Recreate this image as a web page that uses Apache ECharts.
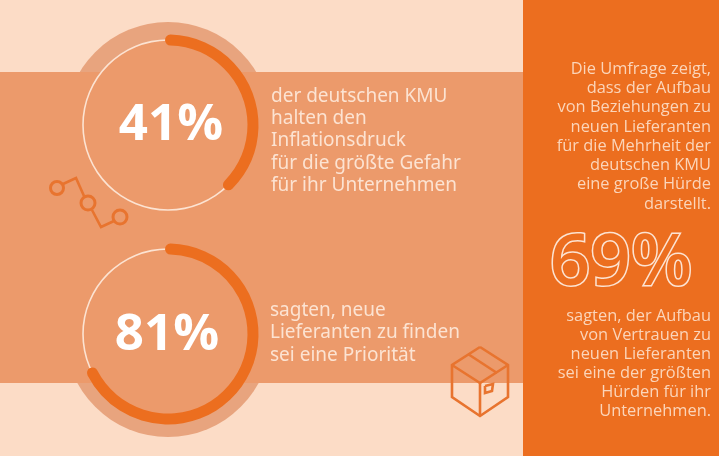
<!DOCTYPE html>
<html>
<head>
    <meta charset="utf-8">
    <title>Lieferanten KMU</title>
    <script src="https://cdn.jsdelivr.net/npm/echarts@6/dist/echarts.min.js"></script>
    <style>
        html, body { margin: 0; padding: 0; background: #FCDCC6; }
        #main { width: 719px; height: 456px; }
    </style>
</head>
<body>
    <div id="main"></div>
    <script type="text/javascript">
        // values
        var percentLabels = ['41%', '81%'];
        // length of the thick arcs as drawn in the picture (shorter than the printed numbers)
        var arcShares = [39, 69];
        var bigOutlineLabel = '69%';

        // texts
        var topLines = ['der deutschen KMU', 'halten den', 'Inflationsdruck', 'für die größte Gefahr', 'für ihr Unternehmen'];
        var bottomLines = ['sagten, neue', 'Lieferanten zu finden', 'sei eine Priorität'];
        var panelTopLines = ['Die Umfrage zeigt,', 'dass der Aufbau', 'von Beziehungen zu', 'neuen Lieferanten', 'für die Mehrheit der', 'deutschen KMU', 'eine große Hürde', 'darstellt.'];
        var panelBottomLines = ['sagten, der Aufbau', 'von Vertrauen zu', 'neuen Lieferanten', 'sei eine der größten', 'Hürden für ihr', 'Unternehmen.'];

        var orange = '#EC6E1F';
        var band = '#EC9A6B';
        var halo = '#E8A47E';
        var cream = '#FCE3D2';
        var centers = [[168, 125], [168, 334]];
        var labelOffsets = [[3, 0], [-1, 1]];

        var myChart = echarts.init(document.getElementById('main'));

        function fullDisc(center, radius, color, z) {
            return {
                type: 'pie', silent: true, z: z, center: center, radius: radius,
                label: { show: false }, labelLine: { show: false },
                data: [{ value: 1, itemStyle: { color: color } }]
            };
        }

        function arc(center, share, label, offset) {
            return {
                type: 'pie', silent: true, z: 6, center: center, radius: [79.5, 90.5],
                startAngle: 92, clockwise: true,
                labelLine: { show: false },
                data: [
                    {
                        value: share,
                        itemStyle: { color: orange, borderRadius: 5.5 },
                        label: {
                            show: true, position: 'center', formatter: label, offset: offset,
                            color: '#fff', fontFamily: 'Open Sans', fontWeight: 'bold', fontSize: 51
                        }
                    },
                    { value: 100 - share, itemStyle: { color: 'transparent' }, label: { show: false } }
                ]
            };
        }

        function textBlock(lines, x, ys, align, size, family, color) {
            return lines.map(function (line, i) {
                return {
                    type: 'text', z: 10, silent: true, x: x, y: ys[i],
                    style: {
                        text: line, fill: color, align: align, verticalAlign: 'middle',
                        fontSize: size, fontFamily: family
                    }
                };
            });
        }

        function iconLine(points) {
            return {
                type: 'polyline', z: 8, silent: true,
                shape: { points: points },
                style: { fill: 'none', stroke: '#E8742F', lineWidth: 2.6, lineJoin: 'miter' }
            };
        }

        function iconCircle(cx, cy, r) {
            return {
                type: 'circle', z: 8, silent: true,
                shape: { cx: cx, cy: cy, r: r },
                style: { fill: 'none', stroke: '#E8742F', lineWidth: 3 }
            };
        }

        var series = [];
        centers.forEach(function (c, i) {
            series.push(fullDisc(c, [0, 103], halo, 1));
            series.push(fullDisc(c, [0, 85], band, 4));
            series.push(fullDisc(c, [84.2, 85.8], cream, 5));
            series.push(arc(c, arcShares[i], percentLabels[i], labelOffsets[i]));
        });

        var graphics = [
            { type: 'rect', z: 0, silent: true, shape: { x: 0, y: 0, width: 719, height: 456 }, style: { fill: '#FCDCC6' } },
            { type: 'rect', z: 2, silent: true, shape: { x: 0, y: 72, width: 523, height: 311 }, style: { fill: band } },
            { type: 'rect', z: 7, silent: true, shape: { x: 523, y: 0, width: 196, height: 456 }, style: { fill: orange } },
            // chain icon
            iconCircle(57, 188, 6.5), iconCircle(88, 203, 7), iconCircle(120, 217, 7),
            iconLine([[63, 184], [76, 178], [84, 196]]),
            iconLine([[92, 210], [101, 227], [114, 221]]),
            // box icon
            iconLine([[480, 347], [508, 365], [508, 397], [480, 416], [452, 397], [452, 365], [480, 347]]),
            iconLine([[452, 365], [480, 383], [508, 365]]),
            iconLine([[480, 383], [480, 416]]),
            iconLine([[468, 354], [497, 373]]),
            iconLine([[485, 386], [493, 384], [492, 391], [485, 393], [485, 386]]),
            {
                type: 'text', z: 10, silent: true, x: 621, y: 265,
                style: {
                    text: bigOutlineLabel, fill: orange, stroke: cream, lineWidth: 3,
                    align: 'center', verticalAlign: 'middle', fontSize: 71, fontWeight: 600, fontFamily: 'Open Sans'
                }
            }
        ]
            .concat(textBlock(topLines, 271, [97, 119, 141, 164, 186], 'left', 19, 'Noto Sans', cream))
            .concat(textBlock(bottomLines, 270, [311, 333, 356], 'left', 19, 'Noto Sans', cream))
            .concat(textBlock(panelTopLines, 711, [69, 88, 107, 127, 146, 165, 184, 204], 'right', 16.4, 'Open Sans', '#FBD5BA'))
            .concat(textBlock(panelBottomLines, 711, [316, 335, 354, 373, 392, 411], 'right', 16.4, 'Open Sans', '#FBD5BA'));

        myChart.setOption({
            animation: false,
            graphic: { elements: graphics },
            series: series
        });
    </script>
</body>
</html>
